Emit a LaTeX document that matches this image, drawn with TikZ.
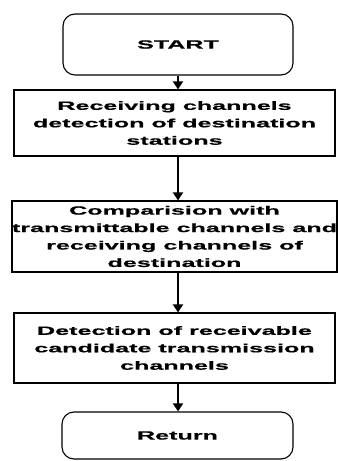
\documentclass[tikz,border=0pt]{standalone}
\usepackage{fontspec}
\setmainfont[FakeStretch=2.1,FakeBold=0.6]{Liberation Sans}
\usetikzlibrary{arrows.meta}

\begin{document}
\begin{tikzpicture}[x=1bp,y=-1bp,
  box/.style={draw, line width=1.1bp, inner sep=0pt,
    font=\fontsize{12}{17.5}\selectfont\bfseries, align=center},
  term/.style={box, rounded corners=12bp},
  flow/.style={line width=1.8bp, -{Triangle[length=8bp,width=10bp]}}]
\useasboundingbox (0,0) rectangle (337,461);

\node[term, minimum width=230bp, minimum height=61bp] (start) at (178,44.5) {START};
\node[box, minimum width=321bp, minimum height=66bp] (s1) at (174.5,123)
  {Receiving channels\\detection of destination\\stations};
\node[box, minimum width=321bp, minimum height=71bp] (s2) at (174.5,236.5)
  {Comparision with\\transmittable channels and\\receiving channels of\\destination};
\node[box, minimum width=321bp, minimum height=70bp] (s3) at (174.5,348)
  {Detection of receivable\\candidate transmission\\channels};
\node[term, minimum width=231bp, minimum height=47bp] (ret) at (177.5,435.5) {Return};

\draw[flow] (start.south) -- (s1.north -| start.south);
\draw[flow] (s1.south -| start.south) -- (s2.north -| start.south);
\draw[flow] (s2.south -| start.south) -- (s3.north -| start.south);
\draw[flow] (s3.south -| start.south) -- (ret.north -| start.south);
\end{tikzpicture}
\end{document}
